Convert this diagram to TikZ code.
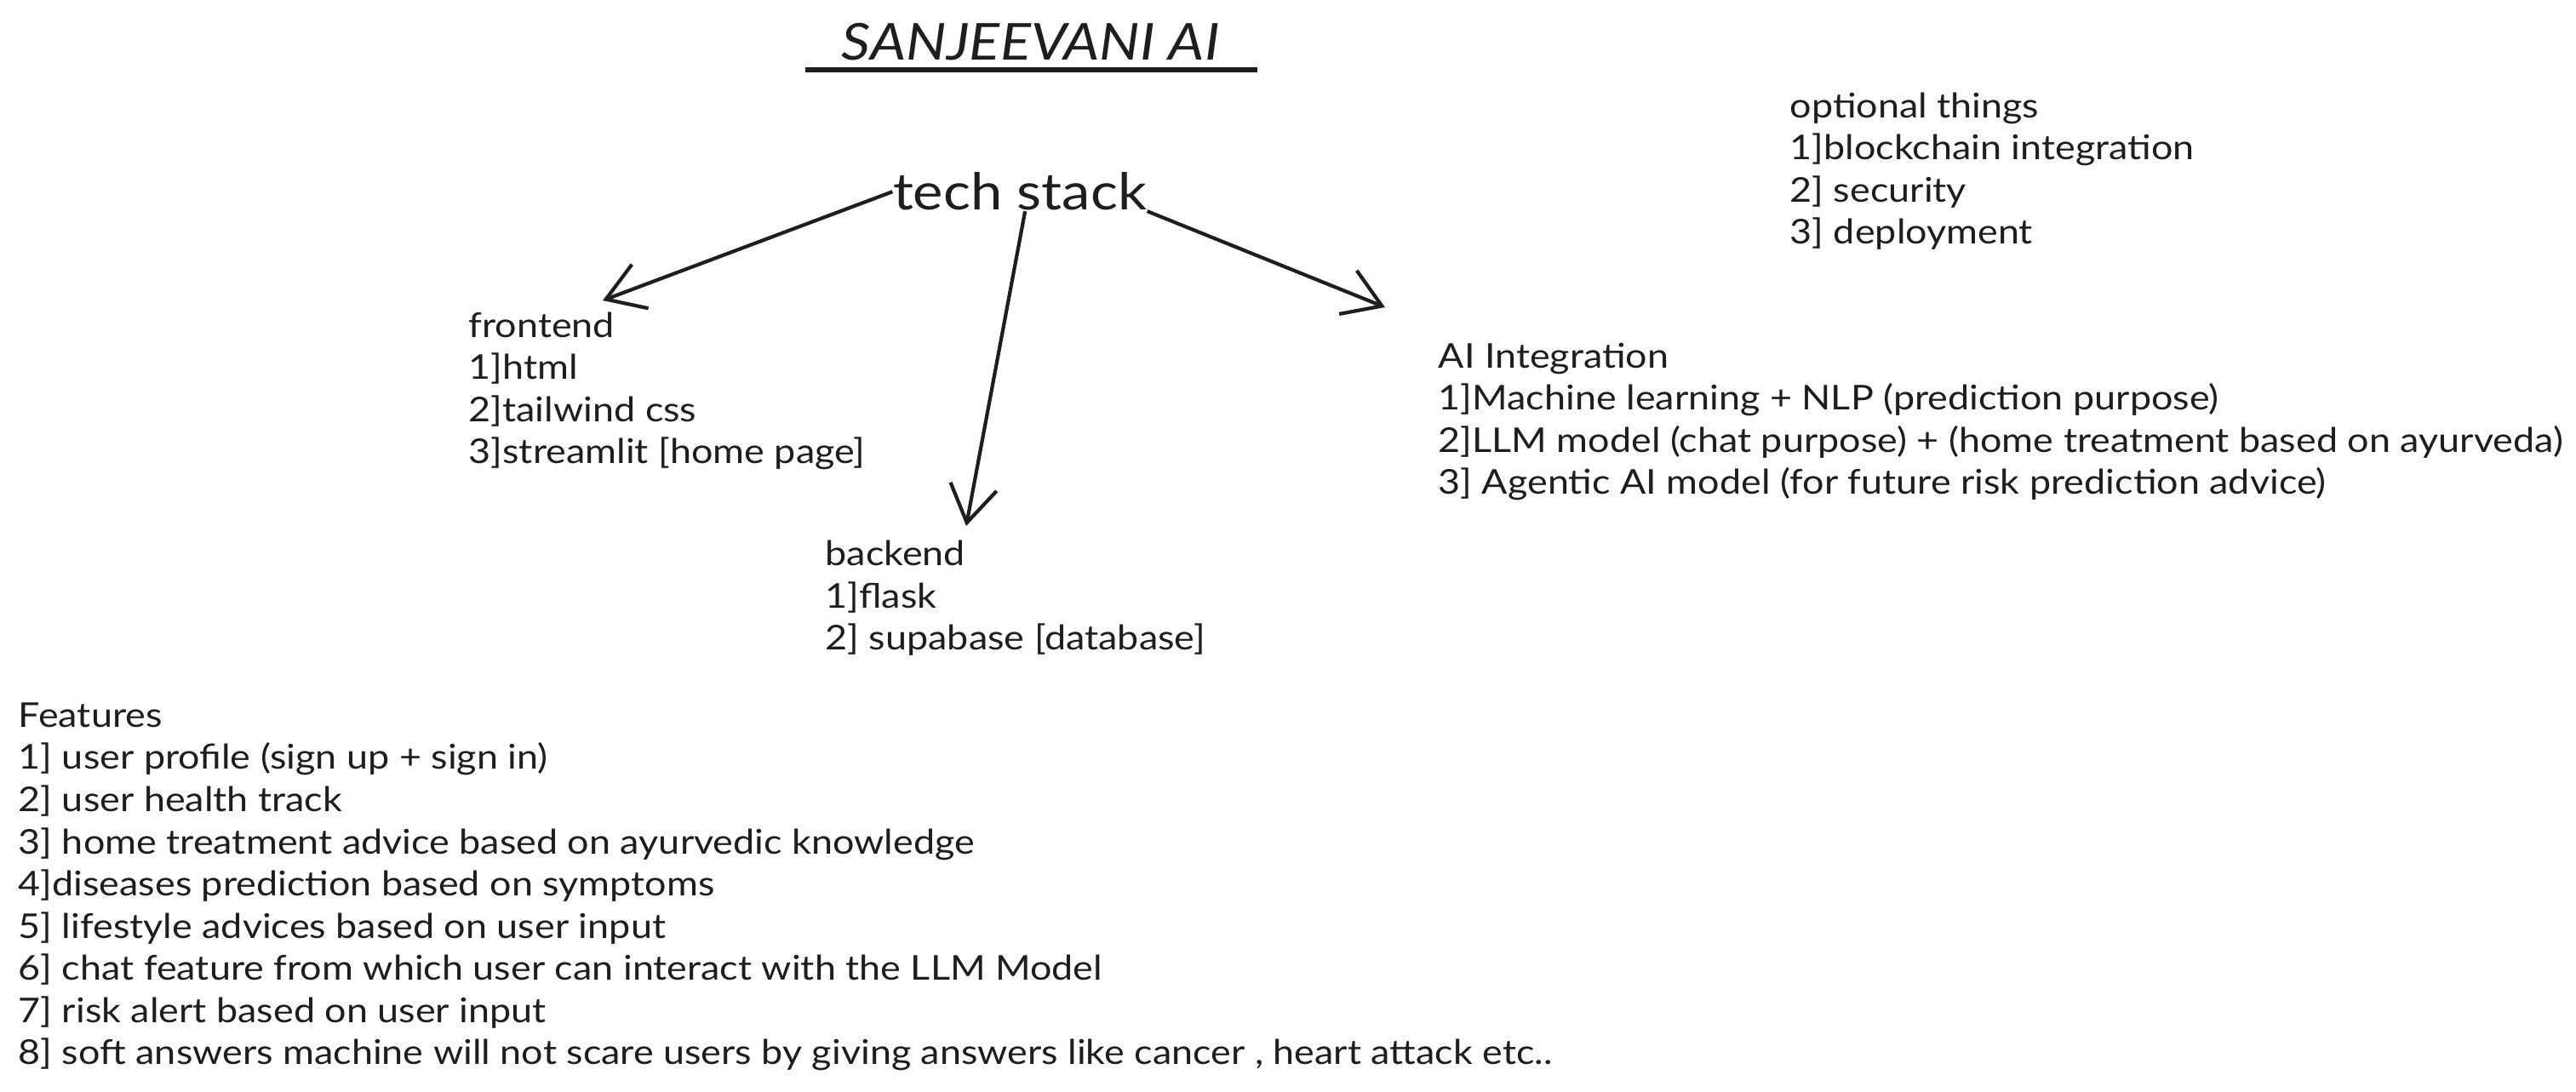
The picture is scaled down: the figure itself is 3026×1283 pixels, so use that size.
\documentclass[tikz,border=0pt]{standalone}
\usepackage{fontspec}
\setmainfont{Lato}[FakeStretch=1.12]
\usetikzlibrary{arrows.meta}
\definecolor{ink}{HTML}{1E1E1E}

\begin{document}
\begin{tikzpicture}[x=0.01cm,y=-0.01cm,
  every node/.style={inner sep=0pt,text=ink},
  blk/.style={anchor=base west,align=left,font=\fontsize{11.4pt}{14.1pt}\selectfont},
  arr/.style={draw=ink,line width=1.2pt,-{Straight Barb[length=4.3mm,width=5.5mm]}}]
  \fill[white] (0,0) rectangle (3026,1283);
  \useasboundingbox (0,0) rectangle (3026,1283);
  % title
  \node[anchor=base,font=\fontsize{17pt}{19pt}\selectfont\itshape] (title) at (1211,71) {SANJEEVANI AI};
  \draw[ink,line width=1.8pt] (946,82) -- (1477,82);
  % tech stack and branches (blocks sit on the baseline of their last line)
  \node[anchor=base,font=\fontsize{17pt}{19pt}\selectfont] (tech) at (1198,247) {tech stack};
  \node[blk] (fe) at (550,545) {frontend\\1]html\\2]tailwind css\\3]streamlit [home page]};
  \node[blk] (be) at (969,764) {backend\\1]flask\\2] supabase [database]};
  \node[blk] (ai) at (1689,581) {AI Integration\\1]Machine learning + NLP (prediction purpose)\\2]LLM model (chat purpose) + (home treatment based on ayurveda)\\3] Agentic AI model (for future risk prediction advice)};
  \coordinate (feTip) at (708,353);
  \coordinate (beTip) at (1135,618);
  \coordinate (aiTip) at (1627,361);
  \draw[arr] (tech.west) -- (feTip);
  \draw[arr] (tech.285) -- (beTip);
  \draw[arr] (tech.south east) -- (aiTip);
  % side lists
  \node[blk] (opt) at (2102,287) {optional things\\1]blockchain integration\\2] security\\3] deployment};
  \node[blk] (feat) at (21,1251) {Features\\1] user profile (sign up + sign in)\\2] user health track\\3] home treatment advice based on ayurvedic knowledge\\4]diseases prediction based on symptoms\\5] lifestyle advices based on user input\\6] chat feature from which user can interact with the LLM Model\\7] risk alert based on user input\\8] soft answers machine will not scare users by giving answers like cancer , heart attack etc..};
\end{tikzpicture}
\end{document}
